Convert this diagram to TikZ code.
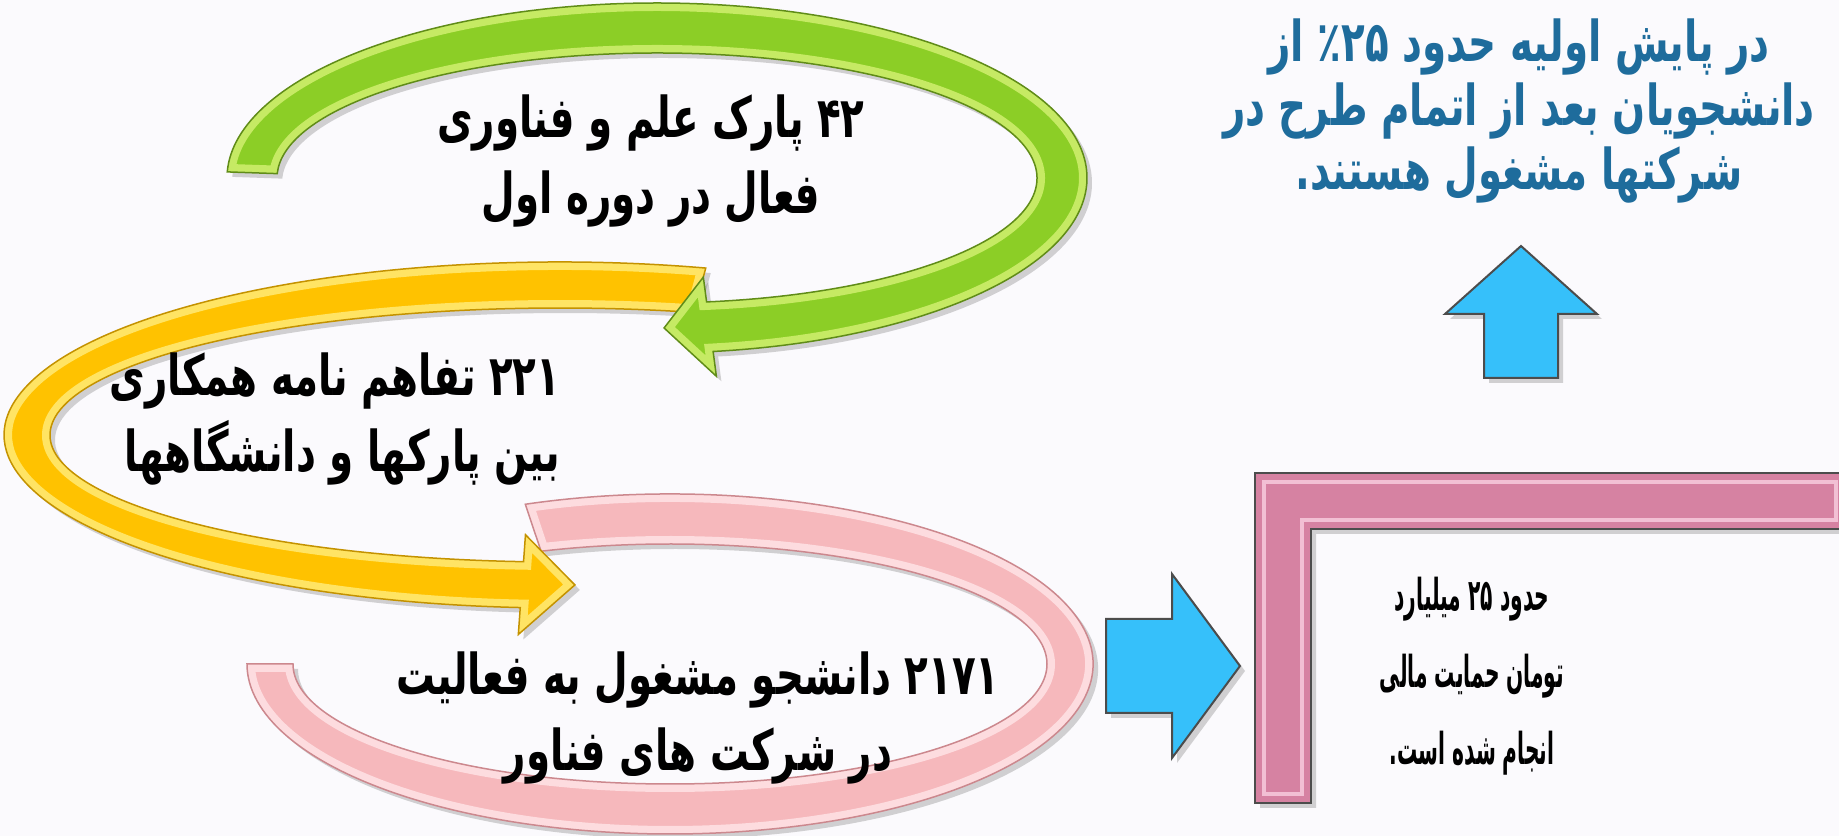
\documentclass[tikz,border=0pt]{standalone}
\usepackage{fontspec}
\usetikzlibrary{calc,shadows}
\newfontfamily\farsi[Script=Arabic, FakeStretch=0.69]{DejaVu Sans}
\newfontfamily\farsinarrow[Script=Arabic, FakeStretch=0.46]{DejaVu Sans}
\TeXXeTstate=1
\newcommand{\rline}[1]{\beginR#1\endR}
\newcommand{\fnum}[1]{\beginL#1\endL{}}

\definecolor{bgcol}{RGB}{251,250,253}
\definecolor{grnbase}{RGB}{140,206,38}
\definecolor{grnlight}{RGB}{198,234,100}
\definecolor{grndark}{RGB}{96,140,24}
\definecolor{ylwbase}{RGB}{255,194,0}
\definecolor{ylwlight}{RGB}{255,228,100}
\definecolor{ylwdark}{RGB}{196,146,0}
\definecolor{pnkbase}{RGB}{246,184,188}
\definecolor{pnklight}{RGB}{253,220,223}
\definecolor{pnkdark}{RGB}{204,136,142}
\definecolor{frmbase}{RGB}{214,130,162}
\definecolor{frmlight}{RGB}{242,192,212}
\definecolor{arrblue}{RGB}{54,192,250}
\definecolor{txtblue}{RGB}{30,108,156}

\tikzset{
  shade3d/.style={drop shadow={opacity=0.35,shadow xshift=0.5mm,shadow yshift=-0.5mm}},
  lbl/.style={font=\farsi\bfseries\fontsize{16}{21.6}\selectfont, align=center, inner sep=0pt},
  smalllbl/.style={lbl, font=\farsinarrow\bfseries\fontsize{12.5}{21.9}\selectfont},
  bluelbl/.style={lbl, text=txtblue, font=\farsi\bfseries\fontsize{16}{18.2}\selectfont},
  bluearrow/.style={fill=arrblue, draw=black!70, line width=0.2mm, shade3d}
}

\def\greenpath{(gc) ++(178:430 and 175) arc[start angle=178, end angle=-82.5, x radius=430, y radius=175]
  -- ($(gc)+(-82.5:455 and 200)$) -- ($(gc)+(-89:405 and 150)$) -- ($(gc)+(-82.5:355 and 100)$)
  -- ($(gc)+(-82.5:380 and 125)$) arc[start angle=-82.5, end angle=178, x radius=380, y radius=125] -- cycle}
\def\yellowpath{(yc) ++(74.8:556 and 173) arc[start angle=74.8, end angle=265.9, x radius=556, y radius=173]
  -- ($(yc)+(265.9:583 and 200)$) -- ($(yc)+(271.6:533 and 150)$) -- ($(yc)+(265.9:483 and 100)$)
  -- ($(yc)+(265.9:510 and 127)$) arc[start angle=265.9, end angle=74.8, x radius=510, y radius=127] -- cycle}
\def\pinkpath{(pc) ++(110:423 and 170) arc[start angle=110, end angle=-180, x radius=423, y radius=170]
  -- ($(pc)+(180:377 and 120)$) arc[start angle=-180, end angle=110, x radius=377, y radius=120] -- cycle}
\def\framepath{(1255,33) -- (1255,363) -- (1845,363) -- (1845,307) -- (1311,307) -- (1311,33) -- cycle}

\begin{document}
\begin{tikzpicture}[x=0.1mm, y=0.1mm]
    \useasboundingbox (0,0) rectangle (1839,836);
    \fill[bgcol] (0,0) rectangle (1839,836);

    \coordinate (gc) at (657,658);
    \coordinate (yc) at (560,401);
    \coordinate (pc) at (670,172);

    \fill[pnkbase, shade3d] \pinkpath;
    \begin{scope}
        \clip \pinkpath;
        \draw[pnklight, line width=1.6mm] \pinkpath;
    \end{scope}
    \draw[pnkdark, line width=0.15mm] \pinkpath;

    \fill[ylwbase, shade3d] \yellowpath;
    \begin{scope}
        \clip \yellowpath;
        \draw[ylwlight, line width=1.6mm] \yellowpath;
    \end{scope}
    \draw[ylwdark, line width=0.15mm] \yellowpath;

    \fill[grnbase, shade3d] \greenpath;
    \begin{scope}
        \clip \greenpath;
        \draw[grnlight, line width=1.6mm] \greenpath;
    \end{scope}
    \draw[grndark, line width=0.15mm] \greenpath;

    \fill[frmbase, shade3d] \framepath;
    \begin{scope}
        \clip \framepath;
        \draw[frmlight, line width=2.2mm] \framepath;
        \draw[frmbase, line width=1.4mm] \framepath;
    \end{scope}
    \draw[black!70, line width=0.2mm] \framepath;

    \draw[bluearrow] (1106,123) -- (1106,217) -- (1172,217) -- (1172,262) -- (1240,170)
        -- (1172,78) -- (1172,123) -- cycle;
    \draw[bluearrow] (1484,458) -- (1484,522) -- (1445,522) -- (1521,590) -- (1597,522)
        -- (1558,522) -- (1558,458) -- cycle;

    \node[lbl] (parks) at (651,675) {\rline{\fnum{۴۲} پارک علم و فناوری}\\\rline{فعال در دوره اول}};
    \node[lbl, align=right, anchor=east] (mou) at (561,417) {\rline{\fnum{۲۲۱} تفاهم نامه همکاری}\\\rline{بین پارکها و دانشگاهها}};
    \node[lbl] (students) at (698,118) {\rline{\fnum{۲۱۷۱} دانشجو مشغول به فعالیت}\\\rline{در شرکت های فناور}};
    \node[smalllbl] (fund) at (1472,160) {\rline{حدود \fnum{۲۵} میلیارد}\\\rline{تومان حمایت مالی}\\\rline{انجام شده است{}.}};
    \node[bluelbl] (survey) at (1519,725) {\rline{در پایش اولیه حدود \fnum{۲۵}٪ از}\\\rline{دانشجویان بعد از اتمام طرح در}\\\rline{شرکتها مشغول هستند{}.}};
\end{tikzpicture}
\end{document}
